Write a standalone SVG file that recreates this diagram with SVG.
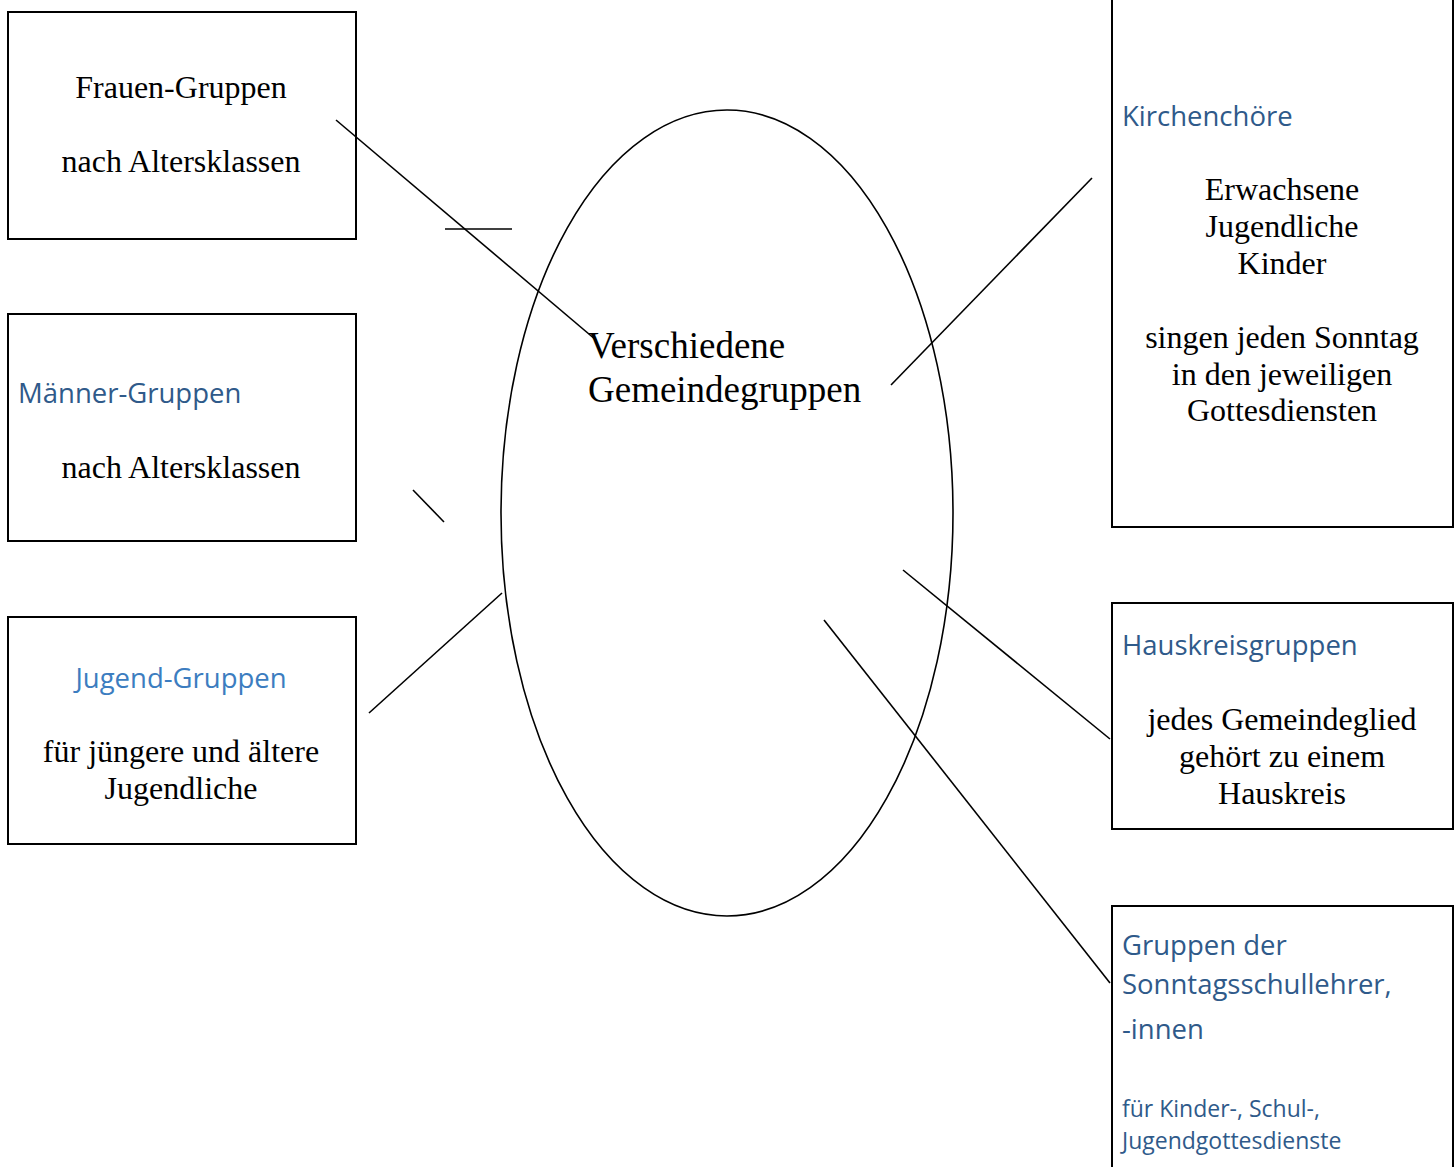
<svg xmlns="http://www.w3.org/2000/svg" width="1454" height="1167" viewBox="0 0 1454 1167">
<style>
.box{fill:#fff;stroke:#000;stroke-width:2}
.ser{font-family:"Liberation Serif","Times New Roman",serif;font-size:32px;fill:#000}
.c{text-anchor:middle}
.hd{font-family:"Open Sans","Noto Sans",sans-serif;font-size:27.5px;fill:#2F5A8A}
.hd2{font-family:"Open Sans","Noto Sans",sans-serif;font-size:27.5px;fill:#3C7DC0}
.sm{font-family:"Open Sans","Noto Sans",sans-serif;font-size:23px;fill:#2F5A8A}
.ln{stroke:#000;stroke-width:1.6;fill:none}
</style>
<rect width="1454" height="1167" fill="#fff"/>
<g id="center">
<ellipse cx="727" cy="513" rx="226" ry="403" fill="none" stroke="#000" stroke-width="1.6"/>
<text class="ser" x="588" y="358" style="font-size:37px">Verschiedene</text>
<text class="ser" x="588" y="402" style="font-size:37px">Gemeindegruppen</text>
</g>
<g id="frauen">
<rect class="box" x="8" y="12" width="348" height="227"/>
<text class="ser c" x="181" y="98">Frauen-Gruppen</text>
<text class="ser c" x="181" y="172">nach Altersklassen</text>
</g>
<g id="maenner">
<rect class="box" x="8" y="314" width="348" height="227"/>
<text class="hd" x="18" y="403">Männer-Gruppen</text>
<text class="ser c" x="181" y="478">nach Altersklassen</text>
</g>
<g id="jugend">
<rect class="box" x="8" y="617" width="348" height="227"/>
<text class="hd2 c" x="181" y="688">Jugend-Gruppen</text>
<text class="ser c" x="181" y="762">für jüngere und ältere</text>
<text class="ser c" x="181" y="799">Jugendliche</text>
</g>
<g id="chor">
<rect class="box" x="1112" y="-4" width="341" height="531"/>
<text class="hd" x="1122" y="126">Kirchenchöre</text>
<text class="ser c" x="1282" y="200">Erwachsene</text>
<text class="ser c" x="1282" y="237">Jugendliche</text>
<text class="ser c" x="1282" y="274">Kinder</text>
<text class="ser c" x="1282" y="348">singen jeden Sonntag</text>
<text class="ser c" x="1282" y="385">in den jeweiligen</text>
<text class="ser c" x="1282" y="421">Gottesdiensten</text>
</g>
<g id="hauskreis">
<rect class="box" x="1112" y="603" width="341" height="226"/>
<text class="hd" x="1122" y="655">Hauskreisgruppen</text>
<text class="ser c" x="1282" y="730">jedes Gemeindeglied</text>
<text class="ser c" x="1282" y="767">gehört zu einem</text>
<text class="ser c" x="1282" y="804">Hauskreis</text>
</g>
<g id="sonntagsschule">
<rect class="box" x="1112" y="906" width="341" height="270"/>
<text class="hd" x="1122" y="955">Gruppen der</text>
<text class="hd" x="1122" y="994">Sonntagsschullehrer,</text>
<text class="hd" x="1122" y="1039">-innen</text>
<text class="sm" x="1122" y="1117">für Kinder-, Schul-,</text>
<text class="sm" x="1122" y="1149">Jugendgottesdienste</text>
</g>
<g id="connectors">
<line class="ln" x1="336" y1="120" x2="596" y2="340"/>
<line class="ln" x1="445" y1="229" x2="512" y2="229"/>
<line class="ln" x1="413" y1="490" x2="444" y2="522"/>
<line class="ln" x1="369" y1="713" x2="502" y2="593"/>
<line class="ln" x1="891" y1="385" x2="1092" y2="178"/>
<line class="ln" x1="903" y1="570" x2="1110" y2="739"/>
<line class="ln" x1="824" y1="620" x2="1110" y2="983"/>
</g>
</svg>
